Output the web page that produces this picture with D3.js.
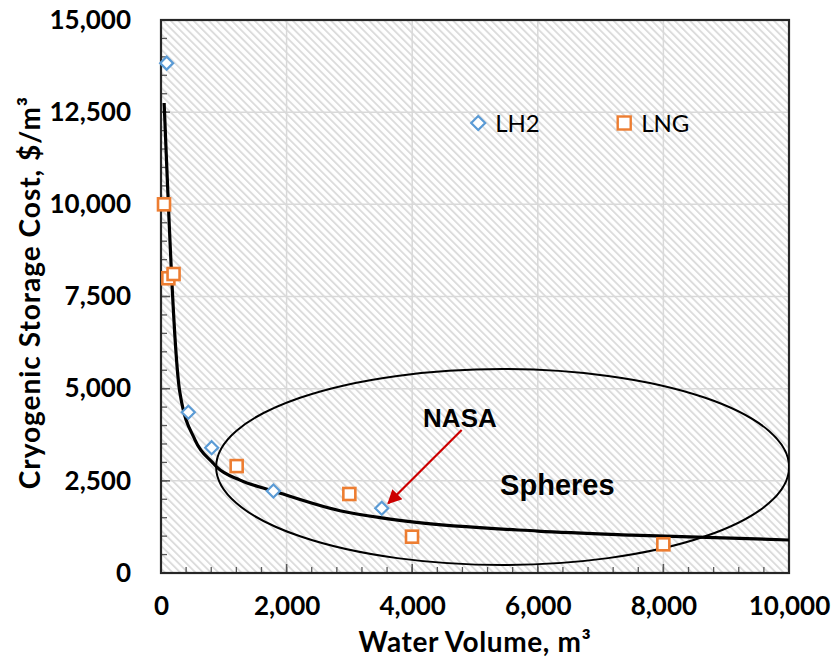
<!DOCTYPE html>
<html>
<head>
<meta charset="utf-8">
<script src="https://cdn.jsdelivr.net/npm/d3@7"></script>
<style>
  html, body { margin: 0; padding: 0; background: #fff; }
  svg { display: block; }
</style>
</head>
<body>
<svg id="chart" width="833" height="663"></svg>
<script>
// LH2 tank costs (diamonds)
const lh2Volume = [90, 435, 807, 1790, 3515];
const lh2Cost = [13830, 4360, 3400, 2225, 1755];

// LNG tank costs (squares)
const lngVolume = [48, 117, 200, 1205, 2999, 3997, 7999];
const lngCost = [10000, 7995, 8110, 2900, 2143, 985, 778];

// Cost trend line
const trendVolume = [50, 300, 545, 830, 890, 1260, 1790, 2850, 3515, 4000, 6000, 7500, 10000];
const trendCost = [12750, 4900, 3600, 2980, 2870, 2520, 2225, 1690, 1495, 1385, 1138, 1028, 895];

// Axis ticks
const xTicks = [0, 2000, 4000, 6000, 8000, 10000];
const yTicks = [0, 2500, 5000, 7500, 10000, 12500, 15000];
const xMinorStep = 400;
const yMinorStep = 500;

// Legend entries
const seriesNames = ["LH2", "LNG"];

// Annotations (data coordinates)
const sphereCenter = [5440, 2875];
const sphereRadii = [4562, 2658];
const nasaLabel = { text: "NASA", x: 4760, y: 3960 };
const nasaArrow = { from: [4788, 3878], to: [3619, 1890] };
const spheresLabel = { text: "Spheres", x: 5400, y: 2115 };

const svg = d3.select("#chart");
const margin = { left: 161, top: 20, right: 44, bottom: 90 };
const W = 833, H = 663;
const iw = W - margin.left - margin.right;
const ih = H - margin.top - margin.bottom;

const x = d3.scaleLinear().domain([0, 10000]).range([0, iw]);
const y = d3.scaleLinear().domain([0, 15000]).range([ih, 0]);

const blue = "#5b9bd5", orange = "#ed7d31";
const labelFont = "Lato, 'Open Sans', sans-serif";

// Diagonal hatch fill for the plot area
const defs = svg.append("defs");
const pat = defs.append("pattern")
  .attr("id", "hatch")
  .attr("patternUnits", "userSpaceOnUse")
  .attr("width", 5.4).attr("height", 5.4)
  .attr("patternTransform", "rotate(-45)");
pat.append("rect").attr("width", 5.4).attr("height", 5.4).attr("fill", "#ffffff");
pat.append("rect").attr("width", 1.9).attr("height", 5.4).attr("fill", "#dcdcdc");

defs.append("clipPath").attr("id", "plotClip")
  .append("rect").attr("width", iw).attr("height", ih);

defs.append("marker")
  .attr("id", "arrowHead")
  .attr("viewBox", "0 0 10 10")
  .attr("refX", 9).attr("refY", 5)
  .attr("markerWidth", 7.5).attr("markerHeight", 6.5)
  .attr("markerUnits", "strokeWidth")
  .attr("orient", "auto")
  .append("path").attr("d", "M0,0 L10,5 L0,10 Z").attr("fill", "#cc0000");

const g = svg.append("g").attr("transform", `translate(${margin.left},${margin.top})`);

g.append("rect").attr("width", iw).attr("height", ih).attr("fill", "url(#hatch)");

// Major gridlines
g.append("g").selectAll("line").data(xTicks.slice(1, -1)).join("line")
  .attr("x1", d => x(d)).attr("x2", d => x(d))
  .attr("y1", 0).attr("y2", ih)
  .attr("stroke", "#d9d9d9").attr("stroke-width", 1.5);
g.append("g").selectAll("line").data(yTicks.slice(1, -1)).join("line")
  .attr("x1", 0).attr("x2", iw)
  .attr("y1", d => y(d)).attr("y2", d => y(d))
  .attr("stroke", "#d9d9d9").attr("stroke-width", 1.5);

// Minor and major tick marks, drawn inward
const xMinor = d3.range(0, 10000 + 1, xMinorStep);
const yMinor = d3.range(0, 15000 + 1, yMinorStep);
g.append("g").selectAll("line").data(xMinor).join("line")
  .attr("x1", d => x(d)).attr("x2", d => x(d))
  .attr("y1", ih).attr("y2", ih - 6)
  .attr("stroke", "#595959").attr("stroke-width", 1.3);
g.append("g").selectAll("line").data(xTicks).join("line")
  .attr("x1", d => x(d)).attr("x2", d => x(d))
  .attr("y1", ih).attr("y2", ih - 9)
  .attr("stroke", "#595959").attr("stroke-width", 1.5);
g.append("g").selectAll("line").data(yMinor).join("line")
  .attr("x1", 0).attr("x2", 6)
  .attr("y1", d => y(d)).attr("y2", d => y(d))
  .attr("stroke", "#595959").attr("stroke-width", 1.3);
g.append("g").selectAll("line").data(yTicks).join("line")
  .attr("x1", 0).attr("x2", 9)
  .attr("y1", d => y(d)).attr("y2", d => y(d))
  .attr("stroke", "#595959").attr("stroke-width", 1.5);

// Plot border
g.append("rect").attr("width", iw).attr("height", ih)
  .attr("fill", "none").attr("stroke", "#262626").attr("stroke-width", 2.2);

// Tick labels via d3 axes
const fmt = d3.format(",");
const xAxis = g.append("g").attr("transform", `translate(0,${ih})`)
  .call(d3.axisBottom(x).tickValues(xTicks).tickFormat(fmt).tickSize(0).tickPadding(24));
const yAxis = g.append("g")
  .call(d3.axisLeft(y).tickValues(yTicks).tickFormat(fmt).tickSize(0).tickPadding(30));
[xAxis, yAxis].forEach(a => {
  a.select(".domain").remove();
  a.selectAll("text")
    .attr("font-family", labelFont).attr("font-weight", 700)
    .attr("font-size", 26).attr("fill", "#000");
});

// Axis titles
svg.append("text")
  .attr("x", margin.left + iw / 2).attr("y", 652)
  .attr("text-anchor", "middle")
  .attr("font-family", labelFont).attr("font-weight", 700).attr("font-size", 28)
  .attr("letter-spacing", 0.6)
  .text("Water Volume, m³");
svg.append("text")
  .attr("transform", `translate(40,${margin.top + ih / 2 - 4}) rotate(-90)`)
  .attr("text-anchor", "middle")
  .attr("font-family", labelFont).attr("font-weight", 700).attr("font-size", 28)
  .attr("letter-spacing", 1)
  .text("Cryogenic Storage Cost, $/m³");

const plot = g.append("g").attr("clip-path", "url(#plotClip)");

// Spheres region
plot.append("ellipse")
  .attr("cx", x(sphereCenter[0])).attr("cy", y(sphereCenter[1]))
  .attr("rx", x(sphereRadii[0]) - x(0)).attr("ry", y(0) - y(sphereRadii[1]))
  .attr("fill", "none").attr("stroke", "#000").attr("stroke-width", 2);

// Trend line
const trend = trendVolume.map((v, i) => [v, trendCost[i]]);
plot.append("path")
  .datum(trend)
  .attr("d", d3.line().x(d => x(d[0])).y(d => y(d[1])).curve(d3.curveMonotoneX))
  .attr("fill", "none").attr("stroke", "#000").attr("stroke-width", 3.2)
  .attr("stroke-linejoin", "round");

// Markers
const diamond = (cx, cy, r) => `M${cx},${cy - r}L${cx + r},${cy}L${cx},${cy + r}L${cx - r},${cy}Z`;
g.append("g").selectAll("rect").data(lngVolume.map((v, i) => [v, lngCost[i]])).join("rect")
  .attr("x", d => x(d[0]) - 6).attr("y", d => y(d[1]) - 6)
  .attr("width", 12).attr("height", 12)
  .attr("fill", "#fff").attr("stroke", orange).attr("stroke-width", 2.6);
g.append("g").selectAll("path").data(lh2Volume.map((v, i) => [v, lh2Cost[i]])).join("path")
  .attr("d", d => diamond(x(d[0]), y(d[1]), 6.5))
  .attr("fill", "#fff").attr("stroke", blue).attr("stroke-width", 2.2);

// Annotations
g.append("line")
  .attr("x1", x(nasaArrow.from[0])).attr("y1", y(nasaArrow.from[1]))
  .attr("x2", x(nasaArrow.to[0])).attr("y2", y(nasaArrow.to[1]))
  .attr("stroke", "#cc0000").attr("stroke-width", 2.2)
  .attr("marker-end", "url(#arrowHead)");
g.append("text")
  .attr("x", x(nasaLabel.x)).attr("y", y(nasaLabel.y))
  .attr("text-anchor", "middle")
  .attr("font-family", "'Liberation Sans', Arial, sans-serif").attr("font-weight", 700).attr("font-size", 26)
  .text(nasaLabel.text);
g.append("text")
  .attr("x", x(spheresLabel.x)).attr("y", y(spheresLabel.y))
  .attr("font-family", "'Liberation Sans', Arial, sans-serif").attr("font-weight", 700).attr("font-size", 29)
  .text(spheresLabel.text);

// Legend
const legend = g.append("g").attr("transform", `translate(${iw * 0.486},${103})`);
const lh2Item = legend.append("g");
lh2Item.append("path").attr("d", diamond(12, 0, 7))
  .attr("fill", "#fff").attr("stroke", blue).attr("stroke-width", 2.2);
lh2Item.append("text").attr("x", 29).attr("y", 8.5)
  .attr("font-family", labelFont).attr("font-size", 24).text(seriesNames[0]);
const lngItem = legend.append("g").attr("transform", "translate(146,0)");
lngItem.append("rect").attr("x", 5.5).attr("y", -6.5).attr("width", 13).attr("height", 13)
  .attr("fill", "#fff").attr("stroke", orange).attr("stroke-width", 2.4);
lngItem.append("text").attr("x", 29).attr("y", 8.5)
  .attr("font-family", labelFont).attr("font-size", 24).text(seriesNames[1]);
</script>
</body>
</html>
